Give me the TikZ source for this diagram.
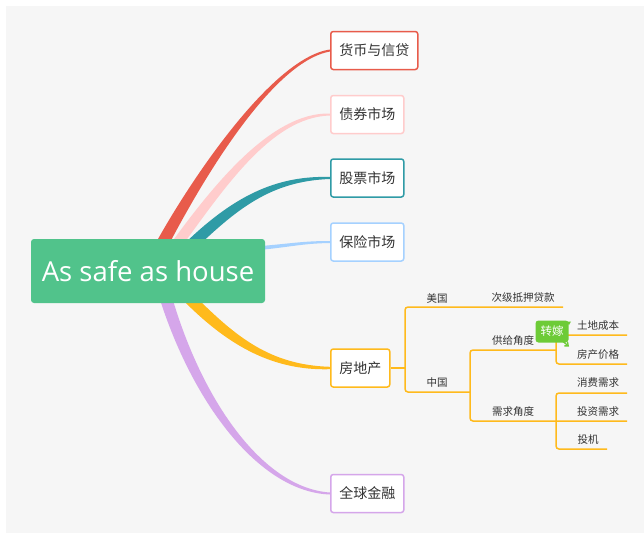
\documentclass[tikz,border=0pt]{standalone}
\usepackage{fontspec}
\setmainfont{Open Sans}
\newfontfamily\cjk{Noto Sans CJK SC}
\usetikzlibrary{calc,arrows.meta}
\definecolor{bgc}{HTML}{F6F6F6}
\definecolor{rootc}{HTML}{51C38B}
\definecolor{redc}{HTML}{E85B4B}
\definecolor{pinkc}{HTML}{FFCCCC}
\definecolor{tealc}{HTML}{2F9BA6}
\definecolor{bluec}{HTML}{A5D1FF}
\definecolor{yelc}{HTML}{FFBA1C}
\definecolor{lilc}{HTML}{D5A6EA}
\definecolor{grnc}{HTML}{6DCB37}
\definecolor{txtc}{HTML}{333333}
\tikzset{
  rootbox/.style={fill=rootc, rounded corners=3pt, minimum width=234pt, minimum height=64pt,
    text=white, font=\fontsize{27.5}{30}\selectfont, inner sep=0pt},
  branch/.style={draw=#1, fill=white, line width=1.5pt, rounded corners=2.5pt, anchor=west,
    minimum height=38pt, inner xsep=8.5pt, inner ysep=0pt, text=txtc,
    font=\cjk\fontsize{14}{16}\selectfont},
  lab/.style={text=txtc, font=\cjk\fontsize{10.5}{12}\selectfont, inner sep=0pt},
  tl/.style={draw=yelc, line width=1.5pt, rounded corners=3pt},
  tag/.style={fill=grnc, rounded corners=3pt, text=white, minimum width=33pt, minimum height=22pt,
    inner sep=0pt, font=\cjk\fontsize{11.5}{13}\selectfont}
}
\begin{document}
\begin{tikzpicture}[x=1pt,y=-1pt]
\useasboundingbox (0,0) rectangle (644,533);
\fill[bgc] (6,6) rectangle (644,533);

% branch nodes
\node[branch=redc]  (b1) at (330,50.5) {货币与信贷};
\node[branch=pinkc] (b2) at (330,114.5) {债券市场};
\node[branch=tealc] (b3) at (330,178) {股票市场};
\node[branch=bluec] (b4) at (330,242) {保险市场};
\node[branch=yelc]  (b5) at (330,368) {房地产};
\node[branch=lilc]  (b6) at (330,493.5) {全球金融};

% root placeholder coordinate for connectors
\coordinate (rc) at (148,271);

% tapered connectors
\fill[redc] ($(rc)+(4,-21)$) .. controls (184,190) and (270,58) .. ($(b1.west)+(0,-1)$)
  -- ($(b1.west)+(0,1)$) .. controls (270,62) and (197,190) .. ($(rc)+(18,-21)$) -- cycle;
\fill[pinkc] ($(rc)+(18,-21)$) .. controls (211,188) and (270,112) .. ($(b2.west)+(0,-1)$)
  -- ($(b2.west)+(0,1)$) .. controls (270,117) and (222,192) .. ($(rc)+(31,-21)$) -- cycle;
\fill[tealc] ($(rc)+(30,-21)$) .. controls (226,202) and (270,175) .. ($(b3.west)+(0,-1)$)
  -- ($(b3.west)+(0,1)$) .. controls (270,181) and (236,210) .. ($(rc)+(46,-21)$) -- cycle;
\fill[bluec] ($(rc)+(100,-24)$) .. controls (290,244) and (300,241) .. ($(b4.west)+(0,-1)$)
  -- ($(b4.west)+(0,1)$) .. controls (300,243.5) and (290,247.5) .. ($(rc)+(100,-20)$) -- cycle;
\fill[yelc] ($(rc)+(30,24)$) .. controls (224,343) and (270,371) .. ($(b5.west)+(0,1.2)$)
  -- ($(b5.west)+(0,-1.2)$) .. controls (270,365) and (236,337) .. ($(rc)+(46,24)$) -- cycle;
\fill[lilc] ($(rc)+(9,19)$) .. controls (190,400) and (258,492) .. ($(b6.west)+(0,1)$)
  -- ($(b6.west)+(0,-1)$) .. controls (262,488) and (200,398) .. ($(rc)+(22,19)$) -- cycle;

% root
\node[rootbox] (root) at (rc) {As safe as house};

% real-estate subtree
\coordinate (j1) at (405,368);
\coordinate (usend) at (563,307);
\coordinate (cn) at (470,392);
\coordinate (sup) at (556,350);
\coordinate (dem) at (627,421);
\coordinate (landend) at (627,335);
\coordinate (priceend) at (627,364);
\coordinate (dj) at (556,421);
\coordinate (conend) at (627,393);
\coordinate (specend) at (607,449);

\draw[tl] (b5.east) -- (j1);
\draw[tl] (j1) |- (usend);
\draw[tl] (j1) |- (cn);
\draw[tl] (cn) |- (sup);
\draw[tl] (cn) |- (dem);
\draw[tl] (sup) |- (landend);
\draw[tl] (sup) |- (priceend);
\draw[tl] (dj) |- (conend);
\draw[tl] (dj) |- (specend);

\node[lab] (us) at (437,298) {美国};
\node[lab] (sub) at (523,298) {次级抵押贷款};
\node[lab] (zh) at (437,383) {中国};
\node[lab] (gy) at (513,341) {供给角度};
\node[lab] (xq) at (513,412) {需求角度};
\node[lab] (td) at (598,326) {土地成本};
\node[lab] (fc) at (598,355) {房产价格};
\node[lab] (xf) at (598,383) {消费需求};
\node[lab] (tz) at (598,412) {投资需求};
\node[lab] (tj) at (588,440) {投机};

% relationship label
\fill[grnc] (566,321.5) -- (571,321.5) -- (569,325) -- cycle;
\draw[grnc, line width=1.3pt, -{Straight Barb[length=3pt,width=5pt]}] (560,339) -- (569,346.5);
\node[tag] (zj) at (552,331.5) {转嫁};
\end{tikzpicture}
\end{document}
